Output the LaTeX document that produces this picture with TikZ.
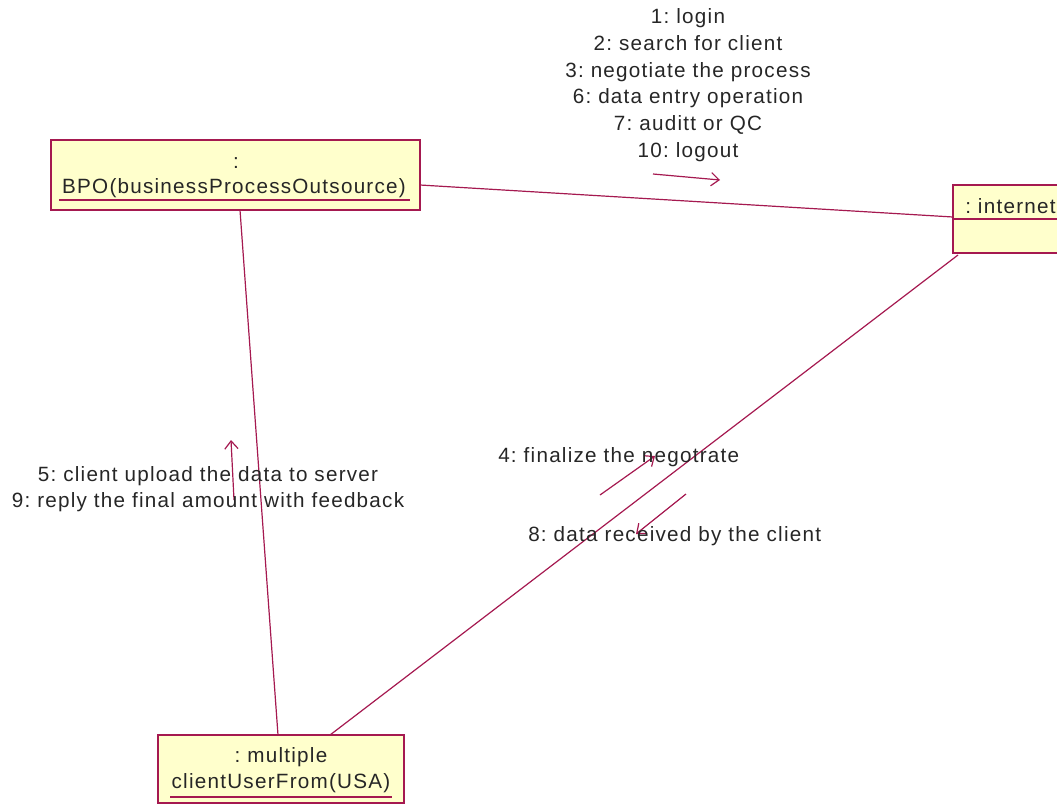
\documentclass[tikz,border=0pt]{standalone}
\usepackage{fontspec}
\setmainfont{Liberation Sans}[LetterSpace=6]
\usetikzlibrary{arrows.meta}
\definecolor{umlline}{RGB}{165,25,80}
\definecolor{umlfill}{RGB}{255,255,204}
\tikzset{
  objbox/.style={draw=umlline, fill=umlfill, line width=1.1pt},
  link/.style={draw=umlline, line width=0.9pt},
  msg/.style={draw=umlline, line width=0.9pt, -{Straight Barb[length=6pt,width=10pt]}},
  lbl/.style={font=\fontsize{15.5}{20}\selectfont\frenchspacing, text=black!85, inner sep=0pt, align=center},
}
\begin{document}
\begin{tikzpicture}[x=0.75pt,y=-0.75pt]
\useasboundingbox (0,0) rectangle (1057,804);
% boxes
\draw[objbox] (51,140) rectangle (420,210);
\node[lbl] (bpocolon) at (236,163) {:};
\node[lbl] (bpo) at (234,188) {BPO(businessProcessOutsource)};
\draw[umlline, line width=0.9pt] (59,200) -- (410,200);

\draw[objbox] (953,185) rectangle (1062,253);
\draw[umlline, line width=1.1pt] (953,219) -- (1062,219);
\node[lbl, anchor=west] (inet) at (965,206) {: internet};

\draw[objbox] (158,735) rectangle (404,803);
\node[lbl] (multi) at (281,757) {: multiple};
\node[lbl] (client) at (281,783) {clientUserFrom(USA)};
\draw[umlline, line width=0.9pt] (170,797) -- (392,797);

% named anchor points
\coordinate (bpoR) at (420,185);
\coordinate (inetL) at (953,217);
\coordinate (bpoB) at (240,210);
\coordinate (cliT) at (278,735);
\coordinate (inetB) at (958,255);
\coordinate (cliT2) at (330,735);

\draw[link] (bpoR) -- (inetL);
\draw[link] (bpoB) -- (cliT);
\draw[link] (inetB) -- (cliT2);

% messages
\coordinate (m1a) at (653,174);
\coordinate (m1b) at (720,180);
\draw[msg] (m1a) -- (m1b);
\coordinate (m5a) at (234,500);
\coordinate (m5b) at (231,440);
\draw[msg] (m5a) -- (m5b);
\coordinate (m4a) at (600,495);
\coordinate (m4b) at (655,456);
\draw[msg] (m4a) -- (m4b);
\coordinate (m8a) at (686,494);
\coordinate (m8b) at (636,534);
\draw[msg] (m8a) -- (m8b);

% labels
\node[lbl] (top) at (688,85) {1: login\\2: search for client\\3: negotiate the process\\6: data entry operation\\7: auditt or QC\\10: logout};
\node[lbl] (l5) at (208,489) {5: client upload the data to server\\9: reply the final amount with feedback};
\node[lbl, anchor=west] (l4) at (498,457) {4: finalize the negotrate};
\node[lbl, anchor=west] (l8) at (528,536) {8: data received by the client};
\end{tikzpicture}
\end{document}
